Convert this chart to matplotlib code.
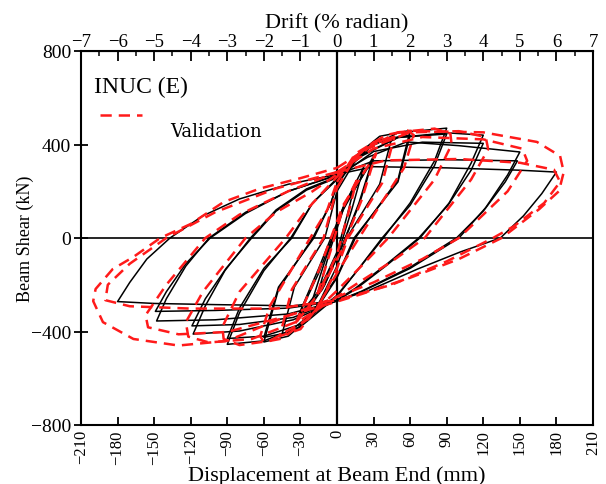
import matplotlib
matplotlib.use("Agg")
import matplotlib.pyplot as plt

# ---------------- data (displacement mm, beam shear kN) ----------------
# Experimental loops (black solid)
exp_05 = [(-15, -225), (-5, -40), (5, 120), (15, 235), (8, 90), (0, -60), (-8, -150), (-15, -225)]
exp_075 = [(-22, -295), (-10, -100), (5, 130), (22, 305), (12, 120), (0, -80), (-10, -200), (-22, -295)]
exp_1a = [(-33, -350), (-15, -150), (5, 120), (30, 350), (18, 150), (3, -50), (-12, -220), (-33, -350)]
exp_1b = [(-32, -335), (-15, -130), (5, 130), (30, 340), (18, 140), (2, -60), (-14, -220), (-32, -335)]
exp_15 = [(0, 200), (15, 330), (30, 400), (45, 430), (35, 230), (8, 0), (0, -120), (-15, -280),
          (-30, -380), (-45, -410), (-35, -210), (-10, 0), (0, 200)]
exp_2a = [(0, 230), (15, 350), (35, 435), (60, 460), (50, 250), (15, 0), (0, -170), (-20, -330),
          (-40, -420), (-60, -445), (-48, -220), (-20, 0), (-5, 150), (0, 230)]
exp_2b = [(0, 225), (15, 340), (35, 420), (60, 440), (50, 240), (14, 0), (0, -165), (-20, -320),
          (-40, -405), (-60, -425), (-48, -210), (-19, 0), (-5, 150), (0, 225)]
exp_3a = [(0, 255), (20, 370), (50, 450), (90, 470), (80, 330), (60, 150), (38, 0), (15, -150),
          (0, -250), (-30, -380), (-60, -440), (-90, -455), (-80, -320), (-60, -140), (-38, 0),
          (-20, 150), (0, 255)]
exp_3b = [(0, 250), (20, 355), (50, 430), (90, 445), (80, 310), (60, 140), (37, 0), (15, -150),
          (0, -245), (-30, -370), (-60, -420), (-90, -430), (-80, -300), (-60, -130), (-37, 0),
          (-20, 150), (0, 250)]
exp_4a = [(0, 262), (20, 350), (50, 430), (90, 450), (120, 440), (110, 320), (92, 150), (68, 0),
          (40, -120), (15, -220), (0, -268), (-36, -350), (-80, -398), (-118, -411), (-108, -290),
          (-92, -140), (-71, 0), (-50, 120), (-25, 210), (0, 262)]
exp_4b = [(0, 258), (30, 370), (70, 410), (120, 405), (110, 290), (91, 140), (67, 0), (40, -115),
          (15, -215), (0, -265), (-36, -340), (-80, -370), (-119, -376), (-108, -260), (-91, -130),
          (-70, 0), (-50, 115), (-25, 205), (0, 258)]
exp_5a = [(0, 268), (25, 345), (57, 411), (100, 395), (150, 368), (140, 270), (122, 130), (100, 0),
          (60, -130), (20, -230), (0, -270), (-40, -325), (-100, -350), (-148, -355), (-140, -260),
          (-124, -120), (-105, 0), (-75, 110), (-40, 200), (0, 268)]
exp_5b = [(0, 270), (30, 330), (90, 335), (148, 330), (138, 240), (120, 115), (98, 0), (60, -125),
          (20, -228), (0, -270), (-40, -300), (-100, -310), (-149, -314), (-140, -230), (-124, -110),
          (-104, 0), (-75, 105), (-40, 200), (0, 270)]
exp_6 = [(0, 272), (30, 305), (90, 300), (150, 290), (180, 282), (168, 190), (153, 95), (134, 0),
         (101, -60), (66, -133), (25, -227), (0, -267), (-36, -290), (-100, -285), (-150, -280),
         (-180, -272), (-170, -190), (-156, -90), (-137, 0), (-110, 95), (-80, 167), (-40, 230), (0, 272)]

# Validation loops (red dashed)
val_05 = [(-16, -240), (-5, -50), (5, 130), (16, 245), (8, 80), (0, -70), (-8, -160), (-16, -240)]
val_1 = [(-34, -365), (-15, -140), (5, 140), (32, 362), (20, 160), (3, -60), (-14, -230), (-34, -365)]
val_15 = [(0, 215), (15, 345), (30, 410), (47, 432), (37, 235), (9, 0), (0, -130), (-15, -290),
          (-30, -390), (-47, -420), (-37, -220), (-11, 0), (0, 215)]
val_2 = [(0, 240), (15, 360), (40, 440), (58, 460), (63, 440), (55, 300), (18, 0), (0, -150),
         (-20, -330), (-45, -430), (-60, -445), (-63, -420), (-55, -290), (-22, 0), (-8, 120), (0, 240)]
val_3 = [(0, 262), (20, 372), (50, 452), (80, 468), (93, 447), (94, 400), (80, 250), (42, 0),
         (20, -120), (0, -225), (-25, -350), (-55, -440), (-80, -458), (-93, -432), (-94, -380),
         (-80, -230), (-42, 0), (-25, 120), (0, 262)]
val_4 = [(0, 272), (25, 382), (60, 452), (100, 457), (122, 432), (124, 380), (110, 250), (72, 0),
         (45, -100), (15, -200), (0, -252), (-30, -352), (-70, -432), (-105, -447), (-122, -422),
         (-124, -360), (-110, -230), (-75, 0), (-50, 110), (-20, 200), (0, 272)]
val_5 = [(0, 282), (30, 382), (70, 432), (120, 422), (152, 382), (156, 330), (140, 200), (100, 0),
         (70, -90), (30, -190), (0, -252), (-40, -332), (-90, -402), (-130, -412), (-155, -382),
         (-157, -330), (-140, -200), (-108, 0), (-80, 100), (-40, 200), (0, 282)]
val_6a = [(0, 300), (30, 400), (60, 458), (120, 452), (164, 411), (183, 351), (186, 282), (182, 200),
          (166, 124), (135, 0), (100, -90), (60, -170), (20, -240), (0, -272), (-40, -332),
          (-90, -440), (-130, -460), (-167, -432), (-192, -360), (-200, -270), (-198, -218),
          (-184, -133), (-167, -81), (-145, 0), (-120, 60), (-93, 154), (-63, 212), (-30, 256), (0, 300)]
val_6b = [(0, 282), (40, 332), (100, 338), (150, 322), (178, 292), (183, 240), (170, 150), (145, 50),
          (128, 0), (90, -100), (45, -200), (0, -266), (-50, -302), (-120, -302), (-170, -292),
          (-190, -266), (-188, -200), (-170, -110), (-140, 0), (-100, 110), (-50, 212), (0, 282)]

exp_loops = [exp_05, exp_075, exp_1a, exp_1b, exp_15, exp_2a, exp_2b, exp_3a, exp_3b,
             exp_4a, exp_4b, exp_5a, exp_5b, exp_6]
val_loops = [val_05, val_1, val_15, val_2, val_3, val_4, val_5, val_6a, val_6b]

x_ticks = [-210, -180, -150, -120, -90, -60, -30, 0, 30, 60, 90, 120, 150, 180, 210]
y_ticks = [-800, -400, 0, 400, 800]
drift_ticks = list(range(-7, 8))

label_title = "INUC (E)"
label_val = "Validation"

# ---------------- figure ----------------
plt.rcParams['font.family'] = ['Liberation Serif', 'DejaVu Serif']

fig = plt.figure(figsize=(6.06, 4.85), dpi=100)
ax = fig.add_axes([81 / 606, 1 - 426 / 485, 512 / 606, 374 / 485])

for lp in exp_loops:
    xs, ys = zip(*lp)
    ax.plot(xs, ys, color='black', lw=1.1, zorder=3)
for lp in val_loops:
    xs, ys = zip(*lp)
    ax.plot(xs, ys, color='#ff1a1a', lw=1.8, dashes=(4.5, 2.8), zorder=4)

ax.axhline(0, color='black', lw=1.2, zorder=2)
ax.axvline(0, color='black', lw=1.6, zorder=2)

ax.set_xlim(-210, 210)
ax.set_ylim(-800, 800)
ax.set_xticks(x_ticks)
ax.set_xticklabels([str(v).replace('-', '\u2212') for v in x_ticks], rotation=90, fontsize=12)
ax.set_yticks(y_ticks)
ax.set_yticklabels([str(v).replace('-', '\u2212') for v in y_ticks], fontsize=14)
ax.tick_params(axis='x', direction='in', length=6, width=1.3, pad=3)
ax.tick_params(axis='y', direction='inout', length=10, width=1.3, pad=2, right=False)
for s in ax.spines.values():
    s.set_linewidth(1.5)

ax.set_xlabel("Displacement at Beam End (mm)", fontsize=16, labelpad=1)
ax.set_ylabel("Beam Shear (kN)", fontsize=13)
ax.yaxis.set_label_coords(-0.092, 0.5)

sec = ax.secondary_xaxis('top', functions=(lambda d: d / 30.0, lambda p: p * 30.0))
sec.set_xticks(drift_ticks)
sec.set_xticklabels([str(v).replace('-', '\u2212') for v in drift_ticks], fontsize=13.5)
sec.set_xticks([v + 0.5 for v in drift_ticks[:-1]], minor=True)
sec.tick_params(axis='x', which='major', direction='in', length=7, width=1.3, pad=1)
sec.tick_params(axis='x', which='minor', direction='in', length=3.5, width=1.1)
sec.set_xlabel("Drift (% radian)", fontsize=16, labelpad=4)

ax.text(0.025, 0.905, label_title, transform=ax.transAxes, fontsize=17, va='center', ha='left')
ax.plot([0.037, 0.12], [0.83, 0.83], transform=ax.transAxes, color='#ff1a1a', lw=1.8,
        dashes=(4.5, 2.8), zorder=5)
ax.text(0.175, 0.785, label_val, transform=ax.transAxes, fontsize=13, va='center', ha='left',
        family=['DejaVu Serif'])

fig.savefig("out.png", dpi=100)
